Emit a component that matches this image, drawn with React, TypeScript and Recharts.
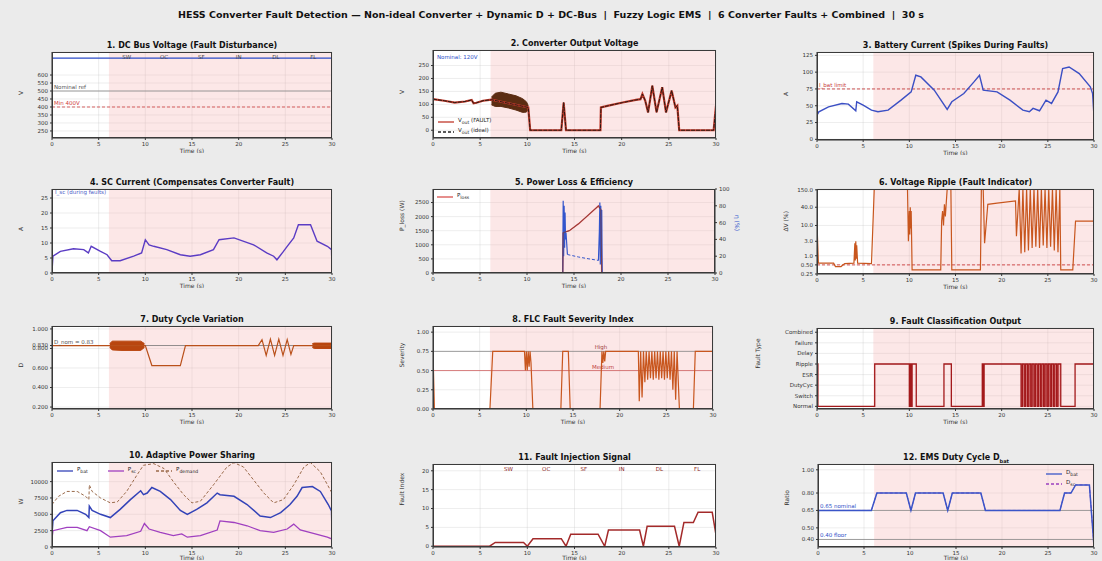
import React from "react";
import {
  ComposedChart,
  Line,
  Area,
  XAxis,
  YAxis,
  CartesianGrid,
  ReferenceArea,
  ReferenceLine,
} from "recharts";

const FONT = "'DejaVu Sans', sans-serif";
const TIME_TICKS = [0, 5, 10, 15, 20, 25, 30];
const FAULT_ONSET = 6.1;
const FAULT_TAGS = ["SW", "OC", "SF", "IN", "DL", "FL"];
const FAULT_TAG_T = [8, 12, 16, 20, 24, 28];

type Pt = [number, number];
type Rg = [number, number, number];

// 1. DC bus voltage
const busV: Pt[] = [[0, 706], [30, 706]];
const BUS_NOM = 500;
const BUS_MIN = 400;
const busTicks = [250, 300, 350, 400, 450, 500, 550, 600];

// 2. converter output voltage
const vOut: Pt[] = [
  [0, 120], [1.2, 114], [2.3, 107], [3.4, 111], [4.1, 117], [4.3, 104], [4.6, 106], [5.3, 114],
  [6.0, 117], [6.2, 118], [10.1, 88], [10.3, 0], [13.6, 0], [13.85, 107], [14.1, 0], [17.75, 0],
  [17.8, 88], [18.6, 95], [20.1, 107], [21.5, 117], [22.0, 120], [22.2, 140], [22.5, 114],
  [22.8, 69], [23.25, 172], [23.7, 69], [24.3, 166], [24.7, 69], [25.3, 153], [25.7, 88],
  [25.9, 95], [26.1, 0], [29.75, 0], [30, 95],
];
const vOutBand: Rg[] = [
  [6.2, 98, 128], [6.6, 92, 143], [7.2, 92, 147], [8.0, 86, 140], [8.8, 78, 133],
  [9.5, 69, 122], [9.9, 70, 110], [10.1, 80, 95],
];
const vTicks = [0, 50, 100, 150, 200, 250];

// 3. battery current
const iBat: Pt[] = [
  [0, 36.1], [0.2, 41], [1.25, 48.4], [2.7, 53.4], [3.4, 52.4], [4.2, 42.5], [4.3, 55.9],
  [5.0, 50.9], [5.9, 43.5], [6.6, 41], [7.7, 43.5], [9.1, 58.3], [10.2, 70.6], [10.7, 95.4],
  [11.25, 92.9], [12.7, 73.1], [14.1, 44.5], [14.6, 55.9], [15.9, 68.2], [17.0, 85.5],
  [17.6, 95.4], [18.0, 73.1], [19.5, 70.6], [20.9, 58.3], [22.3, 43.5], [23.0, 41],
  [23.4, 46], [24.1, 42.5], [24.8, 58.3], [25.4, 53.4], [26.1, 70.6], [26.6, 105.2],
  [27.3, 107.7], [28.4, 97.8], [29.6, 78.1], [29.85, 68], [30, 34],
];
const IBAT_LIMIT = 75;
const iBatTicks = [0, 25, 50, 75, 100, 125];

// 4. SC current
const iSc: Pt[] = [
  [0, 0.5], [0.1, 5.6], [0.9, 7.2], [2.3, 8.1], [3.4, 7.8], [3.9, 6.7], [4.2, 8.9], [5.2, 7.2],
  [5.9, 6.1], [6.4, 4.1], [7.3, 4.1], [8.75, 5.6], [9.6, 6.7], [10.0, 11.1], [10.4, 9.4],
  [10.9, 8.9], [12.3, 7.8], [13.75, 6.1], [14.8, 5.6], [15.9, 6.1], [17.3, 7.8], [17.9, 11.1],
  [19.5, 11.7], [21.6, 9.4], [23.0, 6.7], [23.75, 5.6], [24.1, 4.4], [24.8, 7.2], [25.2, 8.9],
  [25.9, 11.7], [26.4, 16.1], [27.7, 16.1], [28.4, 10.6], [29.5, 8.9], [29.95, 7.8], [30, 0.3],
];
const iScTicks = [0, 5, 10, 15, 20, 25];

// 5. power loss & efficiency
const pLoss: Pt[] = [
  [0, 0], [13.8, 0], [13.85, 1430], [14.5, 1500], [15.5, 1750], [16.5, 2050], [17.6, 2380],
  [17.85, 2250], [17.95, 0], [30, 0],
];
const effA: Pt[] = [
  [0, 0], [13.8, 0], [13.85, 86], [13.9, 20], [13.95, 80], [14.0, 30], [14.05, 72], [14.1, 40],
  [14.15, 48], [14.3, 22],
];
const effB: Pt[] = [[14.3, 22], [15.5, 19], [16.5, 17], [17.6, 15]];
const effC: Pt[] = [
  [17.6, 15], [17.7, 50], [17.75, 84], [17.8, 10], [17.85, 80], [17.9, 20], [17.95, 75],
  [18.0, 0], [30, 0],
];
const pTicks = [0, 500, 1000, 1500, 2000, 2500];
const effTicks = [0, 20, 40, 60, 80, 100];

// 6. voltage ripple (log)
const ripple: Pt[] = [
  [0, 12], [0.15, 0.57], [1.8, 0.57], [2.0, 0.44], [2.6, 0.44], [3.0, 0.55], [4.0, 0.57],
  [4.1, 2.6], [4.15, 0.7], [4.2, 3.0], [4.25, 0.8], [4.3, 2.2], [4.4, 0.57], [5.9, 0.55],
  [6.2, 160], [9.8, 160], [9.9, 3.0], [10.0, 30], [10.05, 5], [10.1, 40], [10.15, 8], [10.2, 30],
  [10.3, 0.34], [13.4, 0.34], [13.5, 14], [13.6, 30], [13.7, 10], [13.8, 50], [13.9, 20],
  [14.1, 160], [14.5, 160], [14.6, 0.34], [17.7, 0.34], [17.8, 160], [18.0, 160], [18.15, 2.6],
  [18.5, 50], [19.5, 55], [21.5, 65], [21.6, 4.4], [21.9, 160], [22.1, 1.2], [22.3, 160],
  [22.5, 1.3], [22.7, 160], [22.9, 1.5], [23.1, 160], [23.3, 1.8], [23.5, 160], [23.7, 2.0],
  [23.9, 160], [24.1, 1.8], [24.3, 160], [24.5, 2.2], [24.7, 160], [24.9, 1.8], [25.1, 160],
  [25.3, 2.0], [25.5, 160], [25.7, 1.5], [25.9, 160], [26.1, 1.3], [26.3, 160], [26.4, 0.34],
  [27.7, 0.34], [28.0, 14], [29.95, 14], [30, 160],
];
const RIPPLE_LIMIT = 0.5;
const rippleTicks = [0.25, 0.5, 1, 3, 10, 40, 150];

// 7. duty cycle
const duty: Pt[] = [
  [0, 0.83], [6.2, 0.83], [10.0, 0.83], [10.7, 0.625], [13.75, 0.625], [14.3, 0.83],
  [22.1, 0.83], [22.5, 0.89], [22.95, 0.73], [23.4, 0.895], [23.85, 0.73], [24.3, 0.895],
  [24.75, 0.73], [25.2, 0.89], [25.6, 0.74], [25.9, 0.83], [30, 0.83],
];
const dutyBandA: Rg[] = [
  [6.2, 0.81, 0.85], [6.45, 0.785, 0.875], [7.5, 0.78, 0.875], [9.5, 0.78, 0.875], [9.9, 0.81, 0.85],
];
const dutyBandB: Rg[] = [[27.9, 0.81, 0.85], [28.1, 0.8, 0.855], [29.9, 0.8, 0.855], [30, 0.81, 0.85]];
const D_NOM = 0.83;
const dutyTicks = [0.2, 0.4, 0.6, 0.8, 0.83, 1.0];

// 8. severity
const severity: Pt[] = [
  [0, 0.75], [0.15, 0], [6.1, 0], [6.4, 0.75], [9.8, 0.75], [9.9, 0.5], [10.0, 0.75], [10.1, 0.5],
  [10.2, 0.75], [10.3, 0.55], [10.4, 0.75], [10.5, 0.6], [10.7, 0], [13.7, 0], [13.9, 0.75],
  [14.5, 0.75], [14.7, 0], [17.9, 0], [18.1, 0.75], [18.2, 0.6], [18.3, 0.75], [18.4, 0.62],
  [18.5, 0.75], [22.0, 0.75], [22.1, 0.1], [22.25, 0.75], [22.4, 0.15], [22.55, 0.75], [22.7, 0.35],
  [22.85, 0.75], [23.0, 0.38], [23.15, 0.75], [23.3, 0.4], [23.45, 0.75], [23.6, 0.38], [23.75, 0.75],
  [23.9, 0.4], [24.05, 0.75], [24.2, 0.38], [24.35, 0.75], [24.5, 0.4], [24.65, 0.75], [24.8, 0.38],
  [24.95, 0.75], [25.1, 0.4], [25.25, 0.75], [25.4, 0.38], [25.55, 0.75], [25.7, 0.25], [25.85, 0.75],
  [26.0, 0.12], [26.15, 0.75], [26.4, 0], [27.9, 0], [28.1, 0.75], [30, 0.75],
];
const SEV_HIGH = 0.75;
const SEV_MED = 0.5;
const sevTicks = [0, 0.25, 0.5, 0.75, 1.0];

// 9. classification
const classNames = ["Normal", "Switch", "DutyCyc", "ESR", "Ripple", "Delay", "Failure", "Combined"];
const classTicks = [0, 1, 2, 3, 4, 5, 6, 7];
const faultClass: Pt[] = [
  [0, 4], [0.1, 0], [6.25, 4], [10.0, 0], [10.1, 4], [10.2, 0], [10.3, 4], [10.75, 0], [13.75, 4],
  [14.55, 0], [17.9, 4], [18.0, 0], [18.1, 4], [22.1, 0], [22.25, 4], [22.45, 0], [22.6, 4],
  [22.8, 0], [22.95, 4], [23.15, 0], [23.3, 4], [23.5, 0], [23.65, 4], [23.85, 0], [24.0, 4],
  [24.2, 0], [24.35, 4], [24.55, 0], [24.7, 4], [24.9, 0], [25.05, 4], [25.25, 0], [25.4, 4],
  [25.6, 0], [25.75, 4], [25.95, 0], [26.1, 4], [26.4, 0], [27.95, 4], [30, 4],
];
const classBand: Rg[] = [[22.1, 0, 4], [26.4, 0, 4]];

// 10. power sharing
const pDemand: Pt[] = [
  [0, 6500], [0.7, 7750], [1.6, 8500], [2.7, 8500], [3.6, 7750], [3.95, 7250], [4.0, 9500],
  [4.3, 8500], [5.2, 7500], [6.25, 6750], [7.0, 6900], [8.0, 8500], [9.1, 11000], [9.8, 12500],
  [10.9, 12750], [12.0, 12000], [13.0, 10000], [14.1, 8000], [15.0, 6750], [15.9, 7000],
  [17.3, 9500], [18.75, 12250], [19.5, 12900], [20.5, 12250], [21.6, 10250], [22.7, 8250],
  [23.75, 6750], [24.8, 7250], [25.9, 9500], [27.0, 12250], [27.7, 12900], [28.75, 11500], [30, 8250],
];
const pBat: Pt[] = [
  [0, 2000], [0.1, 4000], [0.9, 5250], [1.6, 5600], [2.7, 5600], [3.6, 5000], [3.95, 4500],
  [4.0, 6250], [4.3, 5600], [5.2, 5000], [6.25, 4500], [7.3, 5750], [8.4, 7250], [9.5, 8600],
  [9.8, 8000], [10.2, 8250], [10.7, 9100], [11.6, 8500], [12.7, 7250], [13.75, 5600], [14.5, 5000],
  [15.5, 5750], [16.6, 6750], [17.7, 8250], [18.0, 8000], [19.5, 7750], [20.9, 6500], [22.3, 4750],
  [23.4, 4500], [24.5, 5250], [25.5, 6500], [26.25, 7750], [26.8, 9100], [27.9, 9250], [28.75, 8500],
  [29.6, 6500], [29.95, 5500], [30, 2000],
];
const pSc: Pt[] = [
  [0, 1250], [0.1, 2500], [1.6, 3000], [2.7, 3000], [3.75, 2500], [4.0, 3100], [5.2, 2500],
  [6.25, 1500], [8.0, 1750], [9.5, 2400], [9.9, 3600], [10.4, 2750], [11.6, 2250], [13.0, 1750],
  [13.9, 2000], [14.5, 1500], [15.9, 1750], [17.7, 2600], [18.0, 4000], [19.5, 3750], [20.9, 3250],
  [22.3, 2500], [23.75, 2250], [25.2, 2750], [25.9, 3500], [26.6, 2600], [28.0, 2100], [29.5, 1500],
  [29.95, 1250], [30, 500],
];
const powTicks = [0, 2500, 5000, 7500, 10000];

// 11. injection
const injection: Pt[] = [
  [0, 0], [6, 0], [6.6, 1], [9.6, 1], [10, 0], [10.6, 2], [13.6, 2], [14.1, 0], [14.6, 3.2],
  [17.5, 3.2], [18.2, 0], [18.6, 4.3], [21.9, 4.3], [22.3, 0], [22.7, 5.3], [25.6, 5.3], [26.1, 0],
  [26.6, 6.3], [27.6, 6.3], [28.1, 9], [29.6, 9], [30, 3],
];
const injTicks = [0, 5, 10, 15, 20];

// 12. EMS duty
const dBat: Pt[] = [
  [0, 0.34], [0.05, 0.65], [5.8, 0.65], [6.4, 0.8], [9.6, 0.8], [10.1, 0.65], [10.6, 0.8],
  [13.6, 0.8], [14.1, 0.65], [14.6, 0.8], [17.7, 0.8], [18.2, 0.65], [26.3, 0.65], [26.8, 0.8],
  [27.5, 0.8], [28.0, 0.87], [29.5, 0.87], [30, 0.34],
];
const D_EMS_NOM = 0.65;
const D_EMS_MIN = 0.4;
const emsTicks = [0.4, 0.5, 0.65, 0.8, 1.0];

const rows = (p: Pt[]) => p.map(([t, v]) => ({ t, v }));
const bands = (p: Rg[]) => p.map(([t, lo, hi]) => ({ t, r: [lo, hi] }));

type PanelProps = {
  L: number;
  T: number;
  R: number;
  B: number;
  title: React.ReactNode;
  yDomain: [number, number];
  yTicks: number[];
  yFmt?: (v: number) => string;
  yLabel?: string;
  yLog?: boolean;
  yW?: number;
  xh?: number;
  shade?: boolean;
  right?: { domain: [number, number]; ticks: number[]; label: string; color: string };
  children?: React.ReactNode;
  overlay?: React.ReactNode;
};

const tickStyle = { fontSize: 5.5, fill: "#333", fontFamily: FONT };

function Panel(p: PanelProps) {
  const { L, T, R, B, yW = 34, shade = true, right, xh = 15 } = p;
  const XH = xh;
  const RW = right ? 30 : 0;
  const PAD = right ? 0 : 7;
  const TOP = 5;
  const w = R - L + yW + RW + PAD;
  const h = B - T + XH + TOP;
  return (
    <>
      <div style={{ position: "absolute", left: L, top: T, width: R - L, height: B - T, background: "#ffffff" }} />
      <div style={{ position: "absolute", left: L - yW, top: T - TOP, width: w, height: h }}>
        <ComposedChart width={w} height={h} margin={{ top: TOP, right: PAD, bottom: 0, left: 0 }}>
          {shade && (
            <ReferenceArea x1={FAULT_ONSET} x2={30} fill="#f5b0b0" fillOpacity={0.3} stroke="none" ifOverflow="hidden" />
          )}
          <CartesianGrid stroke="#c4c4c4" strokeOpacity={0.6} strokeWidth={0.5} />
          <XAxis
            dataKey="t"
            type="number"
            domain={[0, 30]}
            ticks={TIME_TICKS}
            interval={0}
            allowDataOverflow
            height={XH}
            tick={tickStyle}
            tickSize={2}
            stroke="#333"
            label={{ value: "Time (s)", position: "insideBottom", offset: 0, fontSize: 6, fill: "#333", fontFamily: FONT }}
          />
          <YAxis
            type="number"
            domain={p.yDomain}
            ticks={p.yTicks}
            interval={0}
            allowDataOverflow
            width={yW}
            scale={p.yLog ? "log" : "auto"}
            tick={tickStyle}
            tickSize={2}
            tickFormatter={p.yFmt}
            stroke="#333"
            label={
              p.yLabel
                ? { value: p.yLabel, angle: -90, position: "insideLeft", offset: 3, fontSize: 6, fill: "#333", fontFamily: FONT }
                : undefined
            }
          />
          {right && (
            <YAxis
              yAxisId="r"
              orientation="right"
              type="number"
              domain={right.domain}
              ticks={right.ticks}
              interval={0}
              allowDataOverflow
              width={RW}
              tick={tickStyle}
              tickSize={2}
              stroke="#333"
              label={{ value: right.label, angle: 90, position: "insideRight", offset: 8, fontSize: 6, fill: right.color, fontFamily: FONT }}
            />
          )}
          {p.children}
        </ComposedChart>
      </div>
      <div
        style={{
          position: "absolute",
          left: L,
          top: T,
          width: R - L,
          height: B - T,
          border: "1px solid #3a3a3a",
          boxSizing: "border-box",
          pointerEvents: "none",
        }}
      />
      <div
        style={{
          position: "absolute",
          left: L,
          width: R - L,
          top: T - 11,
          height: 10,
          lineHeight: "10px",
          textAlign: "center",
          fontSize: 8,
          fontWeight: "bold",
          color: "#111",
          whiteSpace: "nowrap",
        }}
      >
        {p.title}
      </div>
      {p.overlay}
    </>
  );
}

type LegItem = { label: React.ReactNode; color: string; dash?: string };
function Leg({ left, top, items, row = false }: { left: number; top: number; items: LegItem[]; row?: boolean }) {
  return (
    <div
      style={{
        position: "absolute",
        left,
        top,
        display: "flex",
        flexDirection: row ? "row" : "column",
        gap: row ? 20 : 1,
        fontSize: 5.5,
        lineHeight: "7px",
        color: "#222",
        pointerEvents: "none",
      }}
    >
      {items.map((it, i) => (
        <div key={i} style={{ display: "flex", alignItems: "center", gap: 4 }}>
          <svg width={16} height={4}>
            <line x1={0} y1={2} x2={16} y2={2} stroke={it.color} strokeWidth={1.3} strokeDasharray={it.dash} />
          </svg>
          <span>{it.label}</span>
        </div>
      ))}
    </div>
  );
}

function Note({ left, top, color, children }: { left: number; top: number; color: string; children: React.ReactNode }) {
  return (
    <div style={{ position: "absolute", left, top, fontSize: 5.5, color, whiteSpace: "nowrap", pointerEvents: "none" }}>
      {children}
    </div>
  );
}

const tagLines = (color: string) =>
  FAULT_TAGS.map((tag, i) => (
    <ReferenceLine
      key={tag}
      x={FAULT_TAG_T[i]}
      stroke="none"
      label={{ value: tag, position: "insideTop", offset: 3, fontSize: 5.5, fill: color, fontFamily: FONT }}
    />
  ));

const C1 = { L: 52, R: 332 };
const C2 = { L: 433, R: 716 };
const C3 = { L: 817, R: 1094 };
const R1 = { T: 52, B: 138 };
const R2 = { T: 189, B: 273 };
const R3 = { T: 326, B: 409 };
const R4 = { T: 464, B: 547, xh: 13 };

export default function App() {
  return (
    <div
      style={{
        position: "absolute",
        left: 0,
        top: 0,
        width: 1102,
        height: 561,
        background: "#ebebeb",
        fontFamily: FONT,
        overflow: "hidden",
      }}
    >
      <div
        style={{
          position: "absolute",
          left: 0,
          top: 9,
          width: 1102,
          textAlign: "center",
          fontSize: 9.5,
          fontWeight: "bold",
          color: "#111",
          whiteSpace: "pre",
        }}
      >
        {"HESS Converter Fault Detection — Non-ideal Converter + Dynamic D + DC-Bus  |  Fuzzy Logic EMS  |  6 Converter Faults + Combined  |  30 s"}
      </div>

      {/* 1 */}
      <Panel {...C1} {...R1} title="1. DC Bus Voltage (Fault Disturbance)" yDomain={[206, 744]} yTicks={busTicks} yLabel="V">
        <ReferenceLine y={BUS_NOM} stroke="#888" strokeWidth={0.8} label={{ value: "Nominal ref", position: "insideBottomLeft", offset: 2, fontSize: 5.5, fill: "#555" }} />
        <ReferenceLine y={BUS_MIN} stroke="#d04040" strokeDasharray="3 2" strokeWidth={0.8} label={{ value: "Min 400V", position: "insideBottomLeft", offset: 2, fontSize: 5.5, fill: "#d04040" }} />
        {tagLines("#444")}
        <Line data={rows(busV)} dataKey="v" dot={false} stroke="#2b4bc8" strokeWidth={1.3} isAnimationActive={false} />
      </Panel>

      {/* 2 */}
      <Panel
        {...C2}
        {...R1}
        T={50}
        title="2. Converter Output Voltage"
        yDomain={[-30, 310]}
        yTicks={vTicks}
        yLabel="V"
        overlay={
          <>
            <Note left={437} top={54} color="#3050c8">Nominal: 120V</Note>
            <Leg
              left={438}
              top={117}
              items={[
                { label: <>V<sub>out</sub> (FAULT)</>, color: "#c0392b" },
                { label: <>V<sub>out</sub> (ideal)</>, color: "#222", dash: "3 2" },
              ]}
            />
          </>
        }
      >
        <Line data={rows(vOut)} dataKey="v" dot={false} stroke="#c0392b" strokeWidth={2.2} isAnimationActive={false} />
        <Area data={bands(vOutBand)} dataKey="r" stroke="#5b2c12" fill="#5b2c12" fillOpacity={1} strokeWidth={1} isAnimationActive={false} />
        <Line data={rows(vOut)} dataKey="v" dot={false} stroke="#2a1a12" strokeWidth={1} strokeDasharray="4 1" isAnimationActive={false} />
      </Panel>

      {/* 3 */}
      <Panel {...C3} {...R1} B={140} title="3. Battery Current (Spikes During Faults)" yDomain={[-1, 130]} yTicks={iBatTicks} yLabel="A">
        <ReferenceLine y={IBAT_LIMIT} stroke="#c84040" strokeDasharray="3 2" strokeWidth={0.9} label={{ value: "I_bat limit", position: "insideBottomLeft", offset: 2, fontSize: 5.5, fill: "#c84040" }} />
        <Line data={rows(iBat)} dataKey="v" dot={false} stroke="#3b4fc4" strokeWidth={1.4} isAnimationActive={false} />
      </Panel>

      {/* 4 */}
      <Panel
        {...C1}
        {...R2}
        title="4. SC Current (Compensates Converter Fault)"
        yDomain={[0, 28]}
        yTicks={iScTicks}
        yLabel="A"
        overlay={<Note left={55} top={189} color="#5060c8">I_sc (during faults)</Note>}
      >
        <Line data={rows(iSc)} dataKey="v" dot={false} stroke="#5b3cc4" strokeWidth={1.4} isAnimationActive={false} />
      </Panel>

      {/* 5 */}
      <Panel
        {...C2}
        {...R2}
        R={715}
        title="5. Power Loss & Efficiency"
        yDomain={[0, 2980]}
        yTicks={pTicks}
        yLabel="P_loss (W)"
        right={{ domain: [0, 100], ticks: effTicks, label: "η (%)", color: "#3355cc" }}
        overlay={<Leg left={437} top={192} items={[{ label: <>P<sub>loss</sub></>, color: "#d9534f" }]} />}
      >
        <Line data={rows(pLoss)} dataKey="v" dot={false} stroke="#d9534f" strokeWidth={1.4} isAnimationActive={false} />
        <Line yAxisId="r" data={rows(effA)} dataKey="v" dot={false} stroke="#3355cc" strokeWidth={1.2} isAnimationActive={false} />
        <Line yAxisId="r" data={rows(effB)} dataKey="v" dot={false} stroke="#3355cc" strokeWidth={1} strokeDasharray="3 2" isAnimationActive={false} />
        <Line yAxisId="r" data={rows(effC)} dataKey="v" dot={false} stroke="#3355cc" strokeWidth={1.2} isAnimationActive={false} />
        <Line data={rows(pLoss)} dataKey="v" dot={false} stroke="#7a3a3a" strokeWidth={0.8} isAnimationActive={false} />
      </Panel>

      {/* 6 */}
      <Panel
        {...C3}
        {...R2}
        B={274}
        title="6. Voltage Ripple (Fault Indicator)"
        yDomain={[0.25, 160]}
        yTicks={rippleTicks}
        yLog
        yFmt={(v) => (v < 1 ? v.toFixed(2) : v.toFixed(1))}
        yLabel="ΔV (%)"
      >
        <ReferenceLine y={RIPPLE_LIMIT} stroke="#d04040" strokeDasharray="3 2" strokeWidth={0.9} />
        <Line data={rows(ripple)} dataKey="v" dot={false} stroke="#c8561e" strokeWidth={1.2} isAnimationActive={false} />
      </Panel>

      {/* 7 */}
      <Panel {...C1} {...R3} title="7. Duty Cycle Variation" yDomain={[0.18, 1.03]} yTicks={dutyTicks} yFmt={(v) => v.toFixed(3)} yLabel="D">
        <ReferenceLine y={D_NOM} stroke="#777" strokeWidth={0.8} label={{ value: "D_nom = 0.83", position: "insideBottomLeft", offset: 2, fontSize: 5.5, fill: "#555" }} />
        <Area data={bands(dutyBandA)} dataKey="r" stroke="#b9460f" fill="#b9460f" fillOpacity={1} strokeWidth={1} isAnimationActive={false} />
        <Area data={bands(dutyBandB)} dataKey="r" stroke="#b9460f" fill="#b9460f" fillOpacity={1} strokeWidth={1} isAnimationActive={false} />
        <Line data={rows(duty)} dataKey="v" dot={false} stroke="#b9501a" strokeWidth={1.2} isAnimationActive={false} />
      </Panel>

      {/* 8 */}
      <Panel {...C2} {...R3} R={713} title="8. FLC Fault Severity Index" yDomain={[0, 1.08]} yTicks={sevTicks} yFmt={(v) => v.toFixed(2)} yLabel="Severity">
        <ReferenceLine y={SEV_HIGH} stroke="#888" strokeWidth={0.8} label={{ value: "High", position: "insideBottom", offset: 2, dx: 28, fontSize: 5.5, fill: "#a04040" }} />
        <ReferenceLine y={SEV_MED} stroke="#d06060" strokeWidth={0.8} label={{ value: "Medium", position: "insideBottom", offset: 2, dx: 30, fontSize: 5.5, fill: "#c04040" }} />
        <Line data={rows(severity)} dataKey="v" dot={false} stroke="#c8561e" strokeWidth={1.2} isAnimationActive={false} />
      </Panel>

      {/* 9 */}
      <Panel
        {...C3}
        {...R3}
        T={328}
        title="9. Fault Classification Output"
        yDomain={[-0.25, 7.4]}
        yTicks={classTicks}
        yFmt={(v) => classNames[v] ?? ""}
        yW={62}
        yLabel="Fault Type"
      >
        <Area data={bands(classBand)} dataKey="r" stroke="none" fill="#d83030" fillOpacity={0.3} isAnimationActive={false} />
        <Line data={rows(faultClass)} dataKey="v" type="stepAfter" dot={false} stroke="#a3191b" strokeWidth={1.3} isAnimationActive={false} />
      </Panel>

      {/* 10 */}
      <Panel
        {...C1}
        {...R4}
        T={462}
        title="10. Adaptive Power Sharing"
        yDomain={[0, 13000]}
        yTicks={powTicks}
        yLabel="W"
        overlay={
          <Leg
            left={57}
            top={466}
            row
            items={[
              { label: <>P<sub>bat</sub></>, color: "#3343b8" },
              { label: <>P<sub>sc</sub></>, color: "#a040c0" },
              { label: <>P<sub>demand</sub></>, color: "#9a6a4a", dash: "3 2" },
            ]}
          />
        }
      >
        <Line data={rows(pDemand)} dataKey="v" dot={false} stroke="#9a6a4a" strokeWidth={1} strokeDasharray="3 2" isAnimationActive={false} />
        <Line data={rows(pBat)} dataKey="v" dot={false} stroke="#3343b8" strokeWidth={1.5} isAnimationActive={false} />
        <Line data={rows(pSc)} dataKey="v" dot={false} stroke="#a040c0" strokeWidth={1.3} isAnimationActive={false} />
      </Panel>

      {/* 11 */}
      <Panel {...C2} {...R4} shade={false} title="11. Fault Injection Signal" yDomain={[-0.2, 21.8]} yTicks={injTicks} yLabel="Fault Index">
        {tagLines("#8b1a1a")}
        <Line data={rows(injection)} dataKey="v" dot={false} stroke="#a32a2a" strokeWidth={1.5} isAnimationActive={false} />
      </Panel>

      {/* 12 */}
      <Panel
        {...C3}
        {...R4}
        L={818}
        R={1094}
        title={<>12. EMS Duty Cycle D<sub style={{ fontSize: 5 }}>bat</sub></>}
        yDomain={[0.335, 1.05]}
        yTicks={emsTicks}
        yFmt={(v) => v.toFixed(2)}
        yLabel="Ratio"
        overlay={
          <Leg
            left={1046}
            top={469}
            items={[
              { label: <>D<sub>bat</sub></>, color: "#3a55c8" },
              { label: <>D<sub>sc</sub></>, color: "#9a40c0", dash: "3 2" },
            ]}
          />
        }
      >
        <ReferenceLine y={D_EMS_NOM} stroke="#888" strokeWidth={0.8} label={{ value: "0.65 nominal", position: "insideBottomLeft", offset: 2, fontSize: 5.5, fill: "#3050c8" }} />
        <ReferenceLine y={D_EMS_MIN} stroke="#888" strokeWidth={0.8} label={{ value: "0.40 floor", position: "insideBottomLeft", offset: 2, fontSize: 5.5, fill: "#3050c8" }} />
        <Line data={rows(dBat)} dataKey="v" dot={false} stroke="#9a40c0" strokeWidth={1} strokeDasharray="3 2" isAnimationActive={false} />
        <Line data={rows(dBat)} dataKey="v" dot={false} stroke="#3a55c8" strokeWidth={1.5} isAnimationActive={false} />
      </Panel>
    </div>
  );
}
